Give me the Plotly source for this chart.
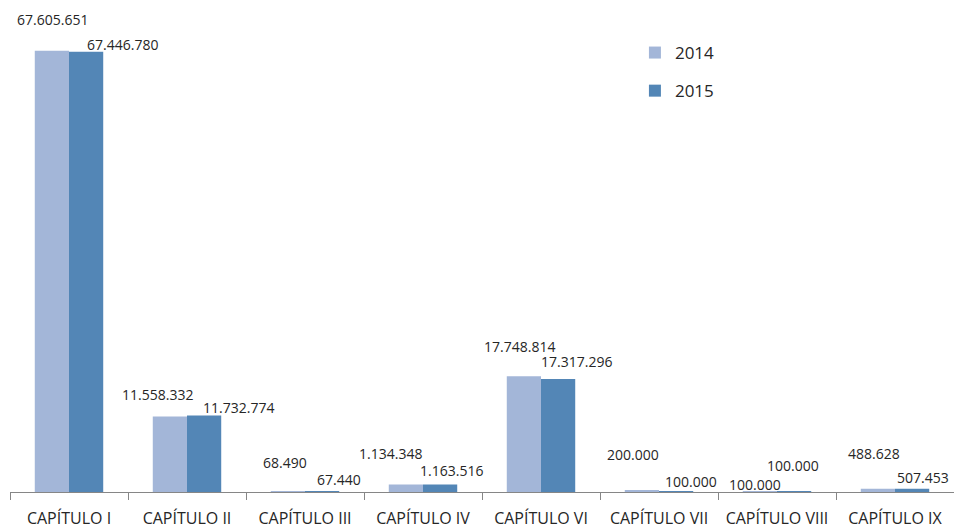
import plotly.graph_objects as go

categories = ["CAPÍTULO I", "CAPÍTULO II", "CAPÍTULO III", "CAPÍTULO IV",
              "CAPÍTULO VI", "CAPÍTULO VII", "CAPÍTULO VIII", "CAPÍTULO IX"]
values_2014 = [67605651, 11558332, 68490, 1134348, 17748814, 200000, 100000, 488628]
values_2015 = [67446780, 11732774, 67440, 1163516, 17317296, 100000, 100000, 507453]

COLOR_2014 = "#A3B6D8"
COLOR_2015 = "#5386B6"
TEXT_COLOR = "#262626"
FONT = "Open Sans, sans-serif"

# label offsets (px) relative to category centre / bar top, as dragged in the original
shifts_2014 = [(-17, 31), (-30, 22), (-20, 29), (-33, 31), (-22, 30), (-26, 36), (-22, 7), (-21, 35)]
shifts_2015 = [(53, 7), (51, 8), (34, 12), (28, 14), (35, 17), (32, 10), (16, 26), (28, 11)]


def fmt(v):
    return f"{v:,}".replace(",", ".")


fig = go.Figure()
fig.add_trace(go.Bar(x=categories, y=values_2014, name="2014", legendgroup="a",
                     marker=dict(color=COLOR_2014, line=dict(width=0))))
fig.add_trace(go.Bar(x=categories, y=values_2015, name="2015", legendgroup="b",
                     marker=dict(color=COLOR_2015, line=dict(width=0))))

for vals, shifts in ((values_2014, shifts_2014), (values_2015, shifts_2015)):
    for cat, v, (dx, dy) in zip(categories, vals, shifts):
        fig.add_annotation(
            x=cat, y=v, text=fmt(v), showarrow=False,
            xshift=dx, yshift=dy,
            font=dict(family=FONT, size=14, color=TEXT_COLOR),
        )

fig.update_layout(
    width=954,
    height=528,
    paper_bgcolor="white",
    plot_bgcolor="white",
    margin=dict(l=10, r=0, t=35, b=36, autoexpand=False),
    font=dict(family=FONT, color=TEXT_COLOR),
    barmode="group",
    bargap=0.42,
    bargroupgap=0,
    showlegend=True,
    legend=dict(
        x=0.662, y=1.0,
        xanchor="left", yanchor="top",
        font=dict(size=17, color=TEXT_COLOR),
        tracegroupgap=13,
        bgcolor="rgba(0,0,0,0)",
    ),
    xaxis=dict(
        showline=True, linecolor="#868686", linewidth=1,
        ticks="outside", tickson="boundaries", ticklen=7, tickcolor="#868686",
        tickfont=dict(size=16, color=TEXT_COLOR),
        ticklabelstandoff=12,
        tickangle=0, automargin=False,
        showgrid=False,
    ),
    yaxis=dict(
        range=[0, 70000000], visible=False, showgrid=False, zeroline=False,
        automargin=False,
    ),
)

# drop the default page margin so the figure fills the window exactly
fig.write_html(
    "out.html",
    config={"displayModeBar": False},
    post_script="document.body.style.margin='0';",
)
